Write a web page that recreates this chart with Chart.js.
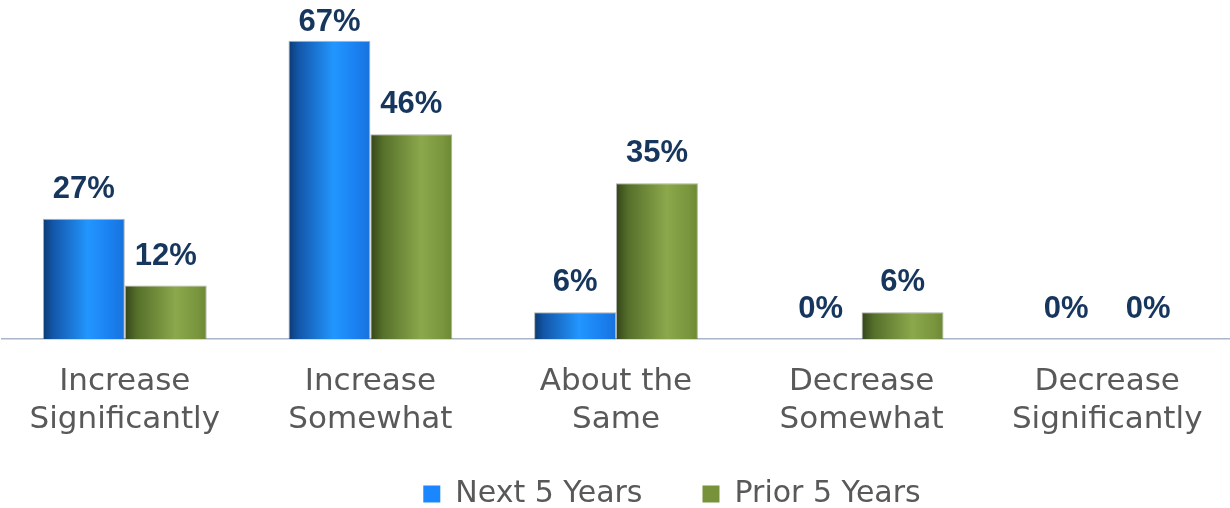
<!DOCTYPE html>
<html>
<head>
<meta charset="utf-8">
<script src="https://cdn.jsdelivr.net/npm/chart.js@4/dist/chart.umd.min.js"></script>
<style>
    html, body { margin: 0; padding: 0; background: #fff; }
    #wrap { width: 1230px; height: 508px; }
</style>
</head>
<body>
<div id="wrap"><canvas id="outlook-chart"></canvas></div>
<script>
// 各类别与两组比例数据
const categories = [
    ['Increase', 'Significantly'],
    ['Increase', 'Somewhat'],
    ['About the', 'Same'],
    ['Decrease', 'Somewhat'],
    ['Decrease', 'Significantly']
];
const nextFiveYears = [27, 67, 6, 0, 0];
const priorFiveYears = [12, 46, 35, 6, 0];
const seriesNames = ['Next 5 Years', 'Prior 5 Years'];

// 柱体横向渐变色（左暗、中亮、右稍暗）
const gradientStops = [
    [[0, '#0b3a72'], [0.12, '#1356a8'], [0.55, '#2296ff'], [0.8, '#1b82f2'], [1, '#1772dc']],
    [[0, '#34441a'], [0.15, '#55702a'], [0.62, '#8ca84c'], [0.88, '#7a963e'], [1, '#6c8834']]
];

const FONT_TEXT = '"DejaVu Sans", Verdana, sans-serif';

/**
 * 绘制前为每根柱子设置横向渐变。
 */
const barGradientPlugin = {
    id: 'barGradient',
    beforeDatasetsDraw(chart) {
        const { ctx } = chart;
        chart.data.datasets.forEach((ds, di) => {
            const meta = chart.getDatasetMeta(di);
            meta.data.forEach((bar) => {
                const left = bar.x - bar.width / 2;
                const g = ctx.createLinearGradient(left, 0, left + bar.width, 0);
                gradientStops[di].forEach(([p, c]) => g.addColorStop(p, c));
                bar.options = Object.assign({}, bar.options, { backgroundColor: g });
            });
        });
    }
};

/**
 * 在柱顶上方写出百分比数值，顶部放不下时贴住绘图区上沿。
 */
const valueLabelPlugin = {
    id: 'valueLabel',
    afterDatasetsDraw(chart) {
        const { ctx, chartArea } = chart;
        ctx.save();
        ctx.font = 'bold 31px "Liberation Sans", Arial, sans-serif';
        ctx.fillStyle = '#17365d';
        ctx.textAlign = 'center';
        ctx.textBaseline = 'alphabetic';
        chart.data.datasets.forEach((ds, di) => {
            const meta = chart.getDatasetMeta(di);
            meta.data.forEach((bar, i) => {
                const y = Math.max(bar.y - 21, chartArea.top + 26);
                ctx.fillText(ds.data[i] + '%', bar.x, y);
            });
        });
        ctx.restore();
    }
};

/**
 * 图例项之间留较大横向间距；图例高度固定，并整体略微上移、右移。
 */
const legendPlacementPlugin = {
    id: 'legendPlacement',
    beforeInit(chart) {
        const fit = chart.legend.fit;
        chart.legend.fit = function () {
            fit.call(this);
            this.height = 73;
        };
    },
    afterLayout(chart) {
        const legend = chart.legend;
        legend.top -= 16;
        legend.height += 16;
        legend.left += 56;
        legend.right += 56;
    }
};

new Chart(document.getElementById('outlook-chart'), {
    type: 'bar',
    data: {
        labels: categories,
        datasets: [
            { label: seriesNames[0], data: nextFiveYears, backgroundColor: '#1a86ff', borderColor: 'rgba(70, 85, 105, 0.45)', borderWidth: 1 },
            { label: seriesNames[1], data: priorFiveYears, backgroundColor: '#77923a', borderColor: 'rgba(70, 85, 60, 0.45)', borderWidth: 1 }
        ]
    },
    options: {
        responsive: true,
        maintainAspectRatio: false,
        animation: false,
        events: [],
        categoryPercentage: 0.667,
        barPercentage: 1,
        layout: { padding: { top: 5, left: 2, right: 0, bottom: 0 } },
        scales: {
            y: { display: false, min: 0, max: 75 },
            x: {
                grid: { display: false },
                border: { display: true, color: '#a9b6c9', width: 1.5 },
                ticks: {
                    color: '#595959',
                    font: { family: FONT_TEXT, size: 31, lineHeight: 1.22 },
                    padding: 16
                },
                afterFit(scale) {
                    scale.height = 96;
                }
            }
        },
        plugins: {
            legend: {
                position: 'bottom',
                labels: {
                    color: '#595959',
                    font: { family: FONT_TEXT, size: 30 },
                    boxWidth: 17,
                    boxHeight: 17,
                    padding: 60,
                    generateLabels(chart) {
                        return Chart.defaults.plugins.legend.labels.generateLabels(chart).map((item) => ({ ...item, lineWidth: 0 }));
                    }
                }
            },
            tooltip: { enabled: false }
        }
    },
    plugins: [barGradientPlugin, valueLabelPlugin, legendPlacementPlugin]
});
</script>
</body>
</html>
